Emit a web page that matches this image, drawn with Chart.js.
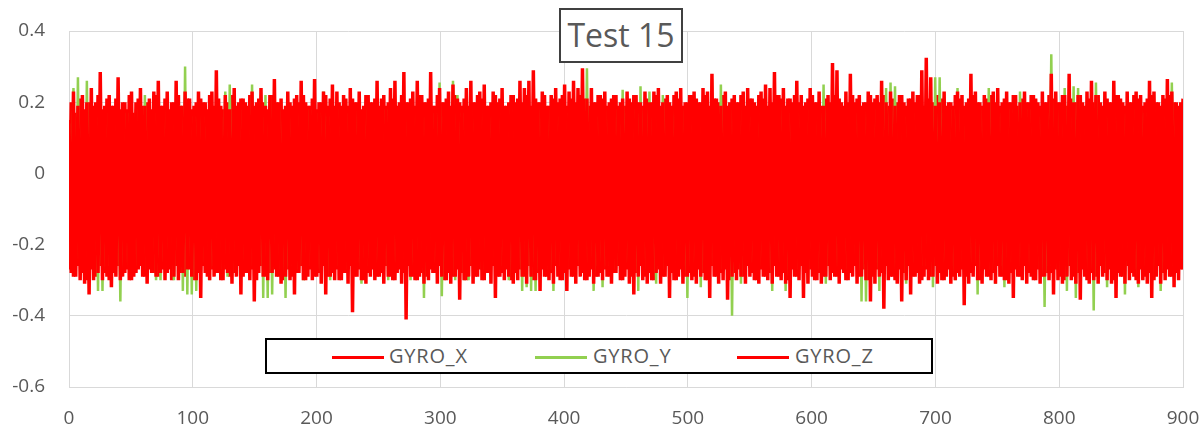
<!DOCTYPE html>
<html>
<head>
<meta charset="utf-8">
<script src="https://cdn.jsdelivr.net/npm/chart.js@4.4.1/dist/chart.umd.min.js"></script>
<style>
  html, body { margin:0; padding:0; background:#fff; }
  #wrap { position:relative; width:1203px; height:429px; overflow:hidden; }
  #c { position:absolute; left:0; top:0; }
  #title { position:absolute; left:559px; top:8px; width:124px; height:55px; box-sizing:border-box;
           border:2px solid #404040; background:#fff; font-family:'Open Sans', sans-serif; font-size:32px;
           color:#595959; text-align:center; line-height:50px; white-space:nowrap; }
  #legend { position:absolute; left:265px; top:338px; width:668px; height:36px; box-sizing:border-box;
            border:2px solid #000; background:#fff; }
  .ln { position:absolute; top:16px; height:2.5px; width:52px; }
  .lt { position:absolute; top:3px; font-family:'Open Sans', sans-serif; font-size:20px; letter-spacing:0.8px;
        color:#595959; line-height:26px; white-space:nowrap; }
</style>
</head>
<body>
<div id="wrap">
  <canvas id="c" width="1203" height="429"></canvas>
  <div id="title">Test 15</div>
  <div id="legend"></div>
</div>
<script>
// ---- data (rad/s), sampled evenly over 0..900 s ----
const T_MAX = 900;
const seriesNames = ['GYRO_X', 'GYRO_Y', 'GYRO_Z'];
const seriesColors = ['#FF0000', '#92D050', '#FF0000'];
const xTicks = [0, 100, 200, 300, 400, 500, 600, 700, 800, 900];
const yTicks = [-0.6, -0.4, -0.2, 0, 0.2, 0.4];

const gyroX = [
-.27,.2,-.29,.17,-.26,.21,-.28,.18,-.3,.2,-.27,.19,-.29,.22,-.26,.18,-.28,.21,-.3,.19,
-.28,.21,-.26,.18,-.29,.2,-.27,.22,-.3,.17,-.28,.21,-.26,.19,-.29,.2,-.27,.18,-.28,.22,
-.29,.19,-.27,.21,-.28,.18,-.3,.2,-.26,.22,-.28,.19,-.29,.21,-.27,.18,-.3,.2,-.28,.21,
-.26,.2,-.29,.22,-.27,.19,-.28,.21,-.3,.18,-.27,.2,-.29,.22,-.28,.19,-.26,.21,-.29,.2,
-.28,.22,-.27,.19,-.3,.21,-.26,.2,-.29,.18,-.28,.22,-.27,.2,-.29,.21,-.3,.19,-.27,.2,
-.29,.21,-.28,.2,-.26,.22,-.3,.19,-.27,.21,-.29,.18,-.28,.2,-.26,.22,-.29,.21,-.28,.19,
-.27,.2,-.3,.22,-.28,.19,-.26,.21,-.29,.2,-.27,.18,-.3,.22,-.28,.2,-.27,.21,-.29,.19,
-.28,.22,-.26,.2,-.29,.21,-.3,.19,-.27,.22,-.28,.2,-.26,.21,-.29,.19,-.3,.22,-.28,.2,
-.29,.21,-.27,.19,-.28,.22,-.26,.2,-.3,.21,-.28,.19,-.29,.22,-.27,.2,-.28,.21,-.3,.19,
-.26,.2,-.29,.22,-.27,.21,-.3,.19,-.28,.2,-.26,.22,-.29,.21,-.28,.19,-.27,.2,-.3,.22,
-.28,.21,-.27,.2,-.29,.22,-.26,.19,-.3,.21,-.28,.2,-.27,.22,-.29,.19,-.28,.21,-.26,.2,
-.3,.22,-.28,.19,-.27,.21,-.29,.2,-.26,.22,-.28,.21,-.3,.19,-.27,.2,-.29,.22,-.28,.21,
-.27,.19,-.29,.21,-.28,.22,-.26,.2,-.3,.19,-.27,.21,-.29,.22,-.28,.2,-.26,.19,-.29,.21,
-.28,.2,-.3,.22,-.27,.19,-.29,.21,-.26,.2,-.28,.22,-.3,.21,-.27,.19,-.29,.2,-.28,.22,
-.29,.21,-.27,.2,-.28,.22,-.3,.19,-.26,.21,-.29,.2,-.28,.22,-.27,.19,-.3,.21,-.28,.2,
-.27,.22,-.29,.19,-.26,.21,-.28,.2,-.3,.22,-.27,.21,-.29,.19,-.28,.2,-.26,.22,-.29,.21,
-.28,.19,-.3,.21,-.27,.22,-.29,.2,-.26,.19,-.28,.21,-.27,.22,-.3,.2,-.28,.19,-.29,.21,
-.26,.2,-.28,.22,-.29,.21,-.27,.19,-.3,.2,-.28,.22,-.26,.21,-.29,.19,-.27,.2,-.3,.22,
-.29,.21,-.27,.2,-.28,.22,-.26,.19,-.29,.21,-.3,.2,-.27,.22,-.28,.19,-.26,.21,-.29,.2,
-.28,.22,-.3,.19,-.27,.21,-.29,.2,-.26,.22,-.28,.21,-.3,.19,-.27,.2,-.29,.22,-.28,.21,
-.27,.19,-.29,.21,-.28,.22,-.26,.2,-.3,.19,-.27,.21,-.29,.22,-.28,.2,-.26,.19,-.29,.21,
-.3,.2,-.28,.22,-.27,.19,-.29,.21,-.26,.2,-.28,.22,-.3,.21,-.27,.19,-.29,.2,-.28,.22,
-.28,.21,-.27,.2,-.29,.22,-.3,.19,-.26,.21,-.29,.2,-.28,.22,-.27,.19,-.3,.21,-.28,.2,
-.29,.22,-.26,.19,-.28,.21,-.27,.2,-.3,.22,-.28,.21,-.29,.19,-.26,.2,-.28,.22,-.3,.21,
-.27,.19,-.29,.21,-.28,.22,-.3,.2,-.26,.19,-.28,.21,-.27,.22,-.29,.2,-.28,.19,-.27,.21
];

const gyroY = [
.14,-.25,.24,-.26,.27,-.24,.17,-.27,.26,-.25,.18,-.26,.16,-.33,.18,-.33,.15,-.26,.17,-.24,
.16,-.26,.18,-.36,.15,-.25,.17,-.27,.16,-.24,.18,-.26,.15,-.25,.22,-.27,.16,-.25,.17,-.3,
.17,-.3,.15,-.25,.18,-.26,.16,-.3,.17,-.25,.19,-.33,.3,-.34,.18,-.34,.16,-.33,.22,-.26,
.16,-.25,.17,-.3,.15,-.26,.18,-.25,.16,-.27,.23,-.29,.25,-.29,.17,-.26,.15,-.25,.18,-.27,
.16,-.26,.25,-.27,.17,-.25,.22,-.35,.22,-.35,.22,-.34,.16,-.26,.18,-.27,.17,-.35,.15,-.26,
.16,-.25,.18,-.27,.17,-.3,.15,-.26,.18,-.25,.16,-.27,.17,-.3,.23,-.26,.16,-.3,.17,-.25,
.18,-.26,.16,-.25,.17,-.27,.15,-.26,.18,-.25,.16,-.31,.17,-.26,.18,-.27,.16,-.25,.17,-.26,
.16,-.27,.18,-.3,.15,-.26,.17,-.25,.16,-.27,.18,-.26,.17,-.3,.16,-.25,.18,-.27,.17,-.35,
.16,-.26,.18,-.25,.17,-.27,.255,-.345,.16,-.26,.18,-.25,.26,-.3,.22,-.27,.17,-.3,.16,-.3,
.18,-.26,.17,-.25,.16,-.27,.18,-.26,.17,-.25,.16,-.27,.18,-.26,.17,-.25,.16,-.3,.18,-.26,
.17,-.27,.16,-.33,.18,-.32,.17,-.33,.16,-.33,.18,-.26,.17,-.25,.16,-.27,.18,-.33,.17,-.26,
.16,-.25,.18,-.27,.17,-.26,.16,-.25,.18,-.27,.17,-.26,.295,-.25,.18,-.33,.16,-.26,.17,-.32,
.18,-.26,.16,-.25,.17,-.27,.18,-.26,.235,-.25,.17,-.27,.16,-.26,.18,-.33,.245,-.25,.17,-.27,
.23,-.26,.16,-.31,.18,-.25,.22,-.27,.16,-.26,.18,-.25,.17,-.27,.16,-.26,.18,-.35,.17,-.25,
.16,-.26,.18,-.32,.17,-.25,.16,-.27,.265,-.26,.17,-.25,.25,-.27,.16,-.26,.18,-.4,.17,-.25,
.16,-.31,.18,-.26,.17,-.25,.16,-.27,.18,-.26,.17,-.25,.16,-.27,.18,-.33,.17,-.26,.16,-.25,
.22,-.33,.17,-.26,.16,-.25,.18,-.27,.17,-.26,.16,-.3,.18,-.25,.17,-.27,.16,-.26,.25,-.31,
.17,-.25,.16,-.27,.18,-.26,.17,-.25,.16,-.27,.18,-.26,.17,-.25,.16,-.36,.18,-.36,.17,-.26,
.16,-.25,.18,-.33,.17,-.26,.24,-.25,.255,-.27,.245,-.26,.17,-.25,.16,-.31,.18,-.26,.17,-.25,
.16,-.27,.18,-.26,.17,-.25,.16,-.32,.27,-.26,.27,-.25,.17,-.27,.16,-.26,.18,-.3,.24,-.25,
.16,-.27,.18,-.26,.17,-.25,.16,-.34,.18,-.26,.17,-.25,.24,-.27,.16,-.31,.18,-.26,.17,-.32,
.16,-.25,.18,-.27,.17,-.26,.23,-.25,.16,-.27,.18,-.26,.17,-.25,.16,-.27,.18,-.375,.17,-.26,
.335,-.25,.16,-.27,.18,-.26,.24,-.33,.25,-.25,.245,-.35,.24,-.26,.17,-.25,.16,-.27,.18,-.385,
.255,-.26,.17,-.25,.16,-.32,.18,-.26,.17,-.25,.16,-.27,.18,-.34,.17,-.25,.16,-.27,.18,-.32,
.22,-.26,.17,-.25,.16,-.31,.18,-.26,.17,-.33,.16,-.25,.18,-.27,.255,-.26,.17,-.25,.16,-.24
];

const gyroZ = [
.15,-.28,.23,-.29,.19,-.3,.22,-.31,.2,-.34,.24,-.3,.2,-.28,.285,-.3,.19,-.29,.22,-.32,
.19,-.29,.27,-.3,.2,-.28,.18,-.3,.23,-.29,.2,-.27,.24,-.29,.19,-.31,.21,-.28,.23,-.29,
.26,-.28,.19,-.3,.23,-.27,.2,-.29,.26,-.3,.19,-.28,.23,-.27,.21,-.29,.19,-.3,.23,-.35,
.2,-.28,.18,-.3,.23,-.29,.29,-.28,.19,-.3,.22,-.28,.18,-.31,.24,-.29,.2,-.34,.21,-.28,
.19,-.3,.23,-.36,.2,-.28,.24,-.29,.19,-.3,.22,-.28,.265,-.29,.2,-.31,.18,-.29,.23,-.3,
.19,-.34,.22,-.28,.26,-.3,.2,-.29,.19,-.3,.265,-.29,.2,-.31,.23,-.34,.19,-.29,.25,-.3,
.23,-.3,.19,-.28,.21,-.31,.24,-.39,.2,-.29,.23,-.3,.19,-.31,.22,-.29,.2,-.3,.26,-.29,
.21,-.31,.19,-.29,.24,-.3,.26,-.28,.2,-.31,.285,-.41,.2,-.29,.23,-.3,.26,-.29,.22,-.31,
.2,-.3,.285,-.28,.19,-.31,.24,-.29,.2,-.3,.23,-.31,.25,-.29,.21,-.355,.19,-.3,.24,-.29,
.26,-.31,.2,-.29,.23,-.3,.25,-.28,.19,-.31,.23,-.35,.2,-.29,.24,-.3,.19,-.29,.22,-.31,
.2,-.3,.26,-.29,.24,-.31,.26,-.29,.29,-.3,.2,-.33,.23,-.29,.19,-.3,.22,-.31,.24,-.29,
.21,-.3,.25,-.33,.23,-.29,.26,-.31,.24,-.29,.295,-.3,.21,-.29,.24,-.31,.2,-.29,.22,-.3,
.23,-.29,.2,-.31,.22,-.28,.19,-.3,.21,-.29,.23,-.31,.2,-.34,.22,-.29,.2,-.3,.23,-.31,
.2,-.3,.23,-.28,.24,-.31,.2,-.29,.22,-.35,.19,-.3,.23,-.29,.24,-.31,.2,-.29,.22,-.3,
.23,-.31,.2,-.29,.24,-.3,.23,-.35,.28,-.29,.21,-.31,.19,-.3,.23,-.355,.2,-.29,.22,-.3,
.2,-.29,.23,-.31,.24,-.29,.21,-.3,.19,-.31,.23,-.29,.25,-.3,.24,-.31,.285,-.29,.22,-.3,
.24,-.31,.21,-.35,.2,-.29,.26,-.3,.22,-.35,.2,-.31,.24,-.29,.2,-.3,.23,-.31,.19,-.29,
.22,-.3,.31,-.29,.29,-.31,.2,-.28,.23,-.3,.28,-.29,.2,-.31,.22,-.29,.2,-.3,.23,-.36,
.2,-.31,.22,-.29,.26,-.38,.2,-.3,.23,-.29,.19,-.31,.22,-.36,.2,-.3,.21,-.34,.23,-.29,
.22,-.31,.29,-.29,.325,-.3,.27,-.29,.19,-.31,.2,-.3,.23,-.29,.2,-.31,.19,-.3,.23,-.29,
.22,-.37,.2,-.31,.28,-.29,.23,-.3,.2,-.31,.22,-.29,.2,-.3,.23,-.31,.24,-.29,.2,-.3,
.23,-.31,.2,-.35,.22,-.29,.2,-.3,.23,-.31,.2,-.29,.22,-.3,.2,-.31,.23,-.29,.2,-.3,
.28,-.34,.23,-.3,.2,-.31,.22,-.29,.28,-.3,.2,-.31,.22,-.355,.2,-.29,.23,-.31,.26,-.3,
.22,-.31,.2,-.29,.23,-.3,.2,-.31,.26,-.35,.22,-.29,.2,-.31,.23,-.3,.2,-.29,.23,-.31,
.22,-.3,.2,-.31,.26,-.35,.23,-.29,.2,-.31,.22,-.3,.265,-.29,.23,-.32,.2,-.3,.2,-.27
];

const allSeries = [gyroX, gyroY, gyroZ];

// sample times: evenly spaced over 0..T_MAX
function withTimes(vals) {
  const n = vals.length;
  return vals.map((v, i) => ({ x: i * T_MAX / (n - 1), y: v }));
}

const FONT = "'Open Sans', sans-serif";
const lineWidths = [3.5, 2.5, 3.5];
const datasets = allSeries.map((vals, i) => ({
  label: seriesNames[i],
  data: withTimes(vals),
  borderColor: seriesColors[i],
  backgroundColor: seriesColors[i],
  borderWidth: lineWidths[i],
  pointRadius: 0,
  tension: 0,
  fill: false,
  borderJoinStyle: 'bevel',
  // Z drawn on top, then Y, then X
  order: [2, 1, 0][i]
}));

function zeroPad(s) { s.paddingLeft = 0; s.paddingRight = 0; s.paddingTop = 0; s.paddingBottom = 0; }

new Chart(document.getElementById('c'), {
  type: 'line',
  data: { datasets },
  options: {
    responsive: false,
    animation: false,
    events: [],
    layout: { padding: { left: 0, right: 20, top: 31, bottom: 0 } },
    plugins: { legend: { display: false }, title: { display: false }, tooltip: { enabled: false } },
    scales: {
      x: {
        type: 'linear',
        min: xTicks[0], max: xTicks[xTicks.length - 1],
        afterBuildTicks: (s) => { s.ticks = xTicks.map(v => ({ value: v })); },
        afterFit: (s) => { s.height = 42; zeroPad(s); },
        ticks: { color: '#595959', font: { family: FONT, size: 19 }, padding: 20, maxRotation: 0,
                 callback: (v) => String(v) },
        grid: { color: '#d9d9d9', lineWidth: 1, drawTicks: false },
        border: { color: '#d9d9d9', width: 1 }
      },
      y: {
        type: 'linear',
        min: yTicks[0], max: yTicks[yTicks.length - 1],
        afterBuildTicks: (s) => { s.ticks = yTicks.map(v => ({ value: v })); },
        afterFit: (s) => { s.width = 69; zeroPad(s); },
        ticks: { color: '#595959', font: { family: FONT, size: 19 }, padding: 24,
                 callback: (v) => { const r = Math.round(v * 10) / 10; return r === 0 ? '0' : String(r); } },
        grid: { color: '#d9d9d9', lineWidth: 1, drawTicks: false },
        border: { color: '#d9d9d9', width: 1 }
      }
    }
  }
});

// legend (HTML, in series order)
const legendPos = [{ line: 65, text: 122 }, { line: 268, text: 326 }, { line: 470, text: 528 }];
const lg = document.getElementById('legend');
seriesNames.forEach((name, i) => {
  const l = document.createElement('div');
  l.className = 'ln'; l.style.left = legendPos[i].line + 'px'; l.style.background = seriesColors[i];
  const t = document.createElement('div');
  t.className = 'lt'; t.style.left = legendPos[i].text + 'px'; t.textContent = name;
  lg.appendChild(l); lg.appendChild(t);
});
</script>
</body>
</html>
